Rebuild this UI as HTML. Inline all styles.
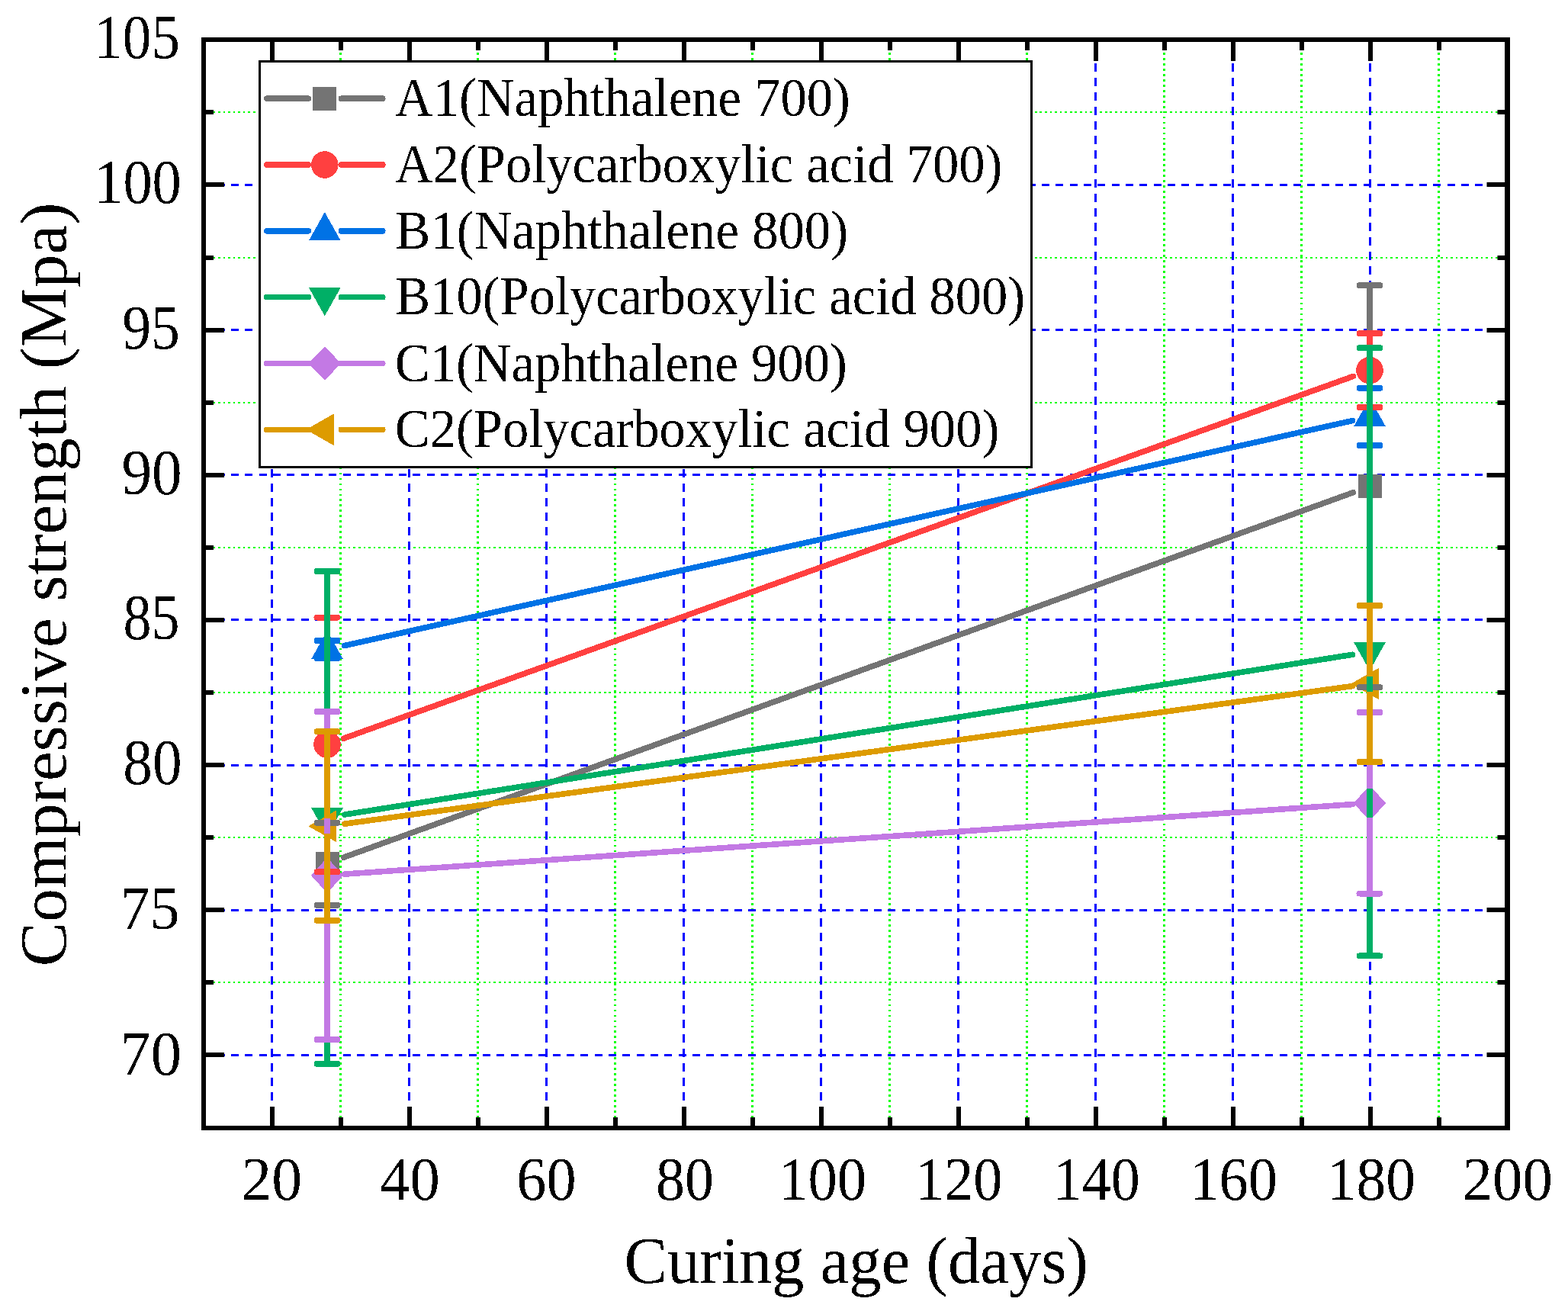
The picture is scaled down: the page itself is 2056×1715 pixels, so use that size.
<!DOCTYPE html><html><head><meta charset="utf-8"><title>Compressive strength vs curing age</title><style>html,body{margin:0;padding:0;background:#fff;overflow:hidden;}svg{display:block;}text{font-family:'Liberation Serif','Times New Roman',serif;fill:#000;}</style></head><body>
<svg width="2056" height="1715" viewBox="0 0 2056 1715">
<rect x="0" y="0" width="2056" height="1715" fill="#fff"/>
<style>.mih{stroke:#00FF00;stroke-width:2;stroke-dasharray:2.6 3.97;}.miv{stroke:#00FF00;stroke-width:3;stroke-dasharray:2.8 4.17;}.mah{stroke:#0000FF;stroke-width:3;stroke-dasharray:10 8.33;}.mav{stroke:#0000FF;stroke-width:3;stroke-dasharray:11 8;}</style>
<g shape-rendering="crispEdges"><line x1="266.3" y1="1288" x2="1976.5" y2="1288" class="mih"/><line x1="266.3" y1="1098" x2="1976.5" y2="1098" class="mih"/><line x1="266.3" y1="908" x2="1976.5" y2="908" class="mih"/><line x1="266.3" y1="718" x2="1976.5" y2="718" class="mih"/><line x1="266.3" y1="528" x2="1976.5" y2="528" class="mih"/><line x1="266.3" y1="338" x2="1976.5" y2="338" class="mih"/><line x1="266.3" y1="147" x2="1976.5" y2="147" class="mih"/><line x1="446.5" y1="62.03" x2="446.5" y2="1479.0" class="miv"/><line x1="626.5" y1="62.03" x2="626.5" y2="1479.0" class="miv"/><line x1="806.5" y1="62.03" x2="806.5" y2="1479.0" class="miv"/><line x1="986.5" y1="62.03" x2="986.5" y2="1479.0" class="miv"/><line x1="1166.5" y1="62.03" x2="1166.5" y2="1479.0" class="miv"/><line x1="1346.5" y1="62.03" x2="1346.5" y2="1479.0" class="miv"/><line x1="1526.5" y1="62.03" x2="1526.5" y2="1479.0" class="miv"/><line x1="1706.5" y1="62.03" x2="1706.5" y2="1479.0" class="miv"/><line x1="1886.5" y1="62.03" x2="1886.5" y2="1479.0" class="miv"/><line x1="266.3" y1="1383.5" x2="1976.5" y2="1383.5" class="mah"/><line x1="266.3" y1="1193.5" x2="1976.5" y2="1193.5" class="mah"/><line x1="266.3" y1="1003.5" x2="1976.5" y2="1003.5" class="mah"/><line x1="266.3" y1="812.5" x2="1976.5" y2="812.5" class="mah"/><line x1="266.3" y1="622.5" x2="1976.5" y2="622.5" class="mah"/><line x1="266.3" y1="432.5" x2="1976.5" y2="432.5" class="mah"/><line x1="266.3" y1="242.5" x2="1976.5" y2="242.5" class="mah"/><line x1="356.5" y1="64" x2="356.5" y2="1479.0" class="mav"/><line x1="536.5" y1="64" x2="536.5" y2="1479.0" class="mav"/><line x1="716.5" y1="64" x2="716.5" y2="1479.0" class="mav"/><line x1="896.5" y1="64" x2="896.5" y2="1479.0" class="mav"/><line x1="1076.5" y1="64" x2="1076.5" y2="1479.0" class="mav"/><line x1="1256.5" y1="64" x2="1256.5" y2="1479.0" class="mav"/><line x1="1436.5" y1="64" x2="1436.5" y2="1479.0" class="mav"/><line x1="1616.5" y1="64" x2="1616.5" y2="1479.0" class="mav"/><line x1="1796.5" y1="64" x2="1796.5" y2="1479.0" class="mav"/></g>
<g shape-rendering="crispEdges"><line x1="450.6" y1="1124.2" x2="1774.4" y2="645.7" stroke="#747474" stroke-width="7.6" stroke-linecap="round"/><line x1="450.6" y1="968.2" x2="1774.4" y2="493.4" stroke="#FF4040" stroke-width="7.6" stroke-linecap="round"/><line x1="451.4" y1="846.6" x2="1773.6" y2="551.5" stroke="#0072E5" stroke-width="7.6" stroke-linecap="round"/><line x1="451.7" y1="1068.1" x2="1773.3" y2="858.3" stroke="#00AF66" stroke-width="7.6" stroke-linecap="round"/><line x1="451.9" y1="1146.1" x2="1773.1" y2="1054.6" stroke="#C379E4" stroke-width="7.6" stroke-linecap="round"/><line x1="451.8" y1="1080.2" x2="1773.2" y2="899.6" stroke="#DD9B00" stroke-width="7.6" stroke-linecap="round"/><rect x="413.5" y="1116.5" width="31" height="31" fill="#747474"/><rect x="1780.5" y="622.4" width="31" height="31" fill="#747474"/><circle cx="429.0" cy="976.0" r="17.8" fill="#FF4040"/><circle cx="1796.0" cy="485.6" r="17.8" fill="#FF4040"/><polygon points="429.0,826.9333333333334 449.75,863.9333333333334 408.25,863.9333333333334" fill="#0072E5"/><polygon points="1796.0,521.8333333333334 1816.75,558.8333333333334 1775.25,558.8333333333334" fill="#0072E5"/><polygon points="429.0,1096.3666666666668 449.75,1059.3666666666668 408.25,1059.3666666666668" fill="#00AF66"/><polygon points="1796.0,879.3666666666667 1816.75,842.3666666666667 1775.25,842.3666666666667" fill="#00AF66"/><polygon points="429.0,1124.45 450.15,1147.7 429.0,1170.95 407.85,1147.7" fill="#C379E4"/><polygon points="1796.0,1029.75 1817.15,1053.0 1796.0,1076.25 1774.85,1053.0" fill="#C379E4"/><polygon points="404.3333333333333,1083.3 441.3333333333333,1062.3 441.3333333333333,1104.3" fill="#DD9B00"/><polygon points="1771.3333333333333,896.5 1808.3333333333333,875.5 1808.3333333333333,917.5" fill="#DD9B00"/><path d="M429.0,1078.7 V1120.0 M429.0,1144.0 V1186.8" stroke="#747474" stroke-width="8" fill="none"/><path d="M415.5,1078.7 H442.5 M415.5,1186.8 H442.5" stroke="#747474" stroke-width="8" stroke-linecap="round" fill="none"/><path d="M1796.0,374.3 V625.9 M1796.0,649.9 V901.2" stroke="#747474" stroke-width="8" fill="none"/><path d="M1782.5,374.3 H1809.5 M1782.5,901.2 H1809.5" stroke="#747474" stroke-width="8" stroke-linecap="round" fill="none"/><path d="M429.0,809.5 V962.0 M429.0,990.0 V1143.3" stroke="#FF4040" stroke-width="8" fill="none"/><path d="M415.5,809.5 H442.5 M415.5,1143.3 H442.5" stroke="#FF4040" stroke-width="8" stroke-linecap="round" fill="none"/><path d="M1796.0,437.3 V471.6 M1796.0,499.6 V534.1" stroke="#FF4040" stroke-width="8" fill="none"/><path d="M1782.5,437.3 H1809.5 M1782.5,534.1 H1809.5" stroke="#FF4040" stroke-width="8" stroke-linecap="round" fill="none"/><path d="M429.0,840.0 V841.6 M429.0,861.6 V863.0" stroke="#0072E5" stroke-width="8" fill="none"/><path d="M415.5,840.0 H442.5 M415.5,863.0 H442.5" stroke="#0072E5" stroke-width="8" stroke-linecap="round" fill="none"/><path d="M1796.0,508.7 V536.5 M1796.0,556.5 V584.1" stroke="#0072E5" stroke-width="8" fill="none"/><path d="M1782.5,508.7 H1809.5 M1782.5,584.1 H1809.5" stroke="#0072E5" stroke-width="8" stroke-linecap="round" fill="none"/><path d="M429.0,749.0 V1061.7 M429.0,1081.7 V1394.8" stroke="#00AF66" stroke-width="8" fill="none"/><path d="M415.5,749.0 H442.5 M415.5,1394.8 H442.5" stroke="#00AF66" stroke-width="8" stroke-linecap="round" fill="none"/><path d="M1796.0,456.2 V844.7 M1796.0,864.7 V1253.4" stroke="#00AF66" stroke-width="8" fill="none"/><path d="M1782.5,456.2 H1809.5 M1782.5,1253.4 H1809.5" stroke="#00AF66" stroke-width="8" stroke-linecap="round" fill="none"/><path d="M429.0,933.0 V1128.7 M429.0,1166.7 V1363.0" stroke="#C379E4" stroke-width="8" fill="none"/><path d="M415.5,933.0 H442.5 M415.5,1363.0 H442.5" stroke="#C379E4" stroke-width="8" stroke-linecap="round" fill="none"/><path d="M1796.0,934.1 V1034.0 M1796.0,1072.0 V1171.5" stroke="#C379E4" stroke-width="8" fill="none"/><path d="M1782.5,934.1 H1809.5 M1782.5,1171.5 H1809.5" stroke="#C379E4" stroke-width="8" stroke-linecap="round" fill="none"/><path d="M429.0,959.3 V1073.3 M429.0,1093.3 V1206.7" stroke="#DD9B00" stroke-width="8" fill="none"/><path d="M415.5,959.3 H442.5 M415.5,1206.7 H442.5" stroke="#DD9B00" stroke-width="8" stroke-linecap="round" fill="none"/><path d="M1796.0,794.1 V886.5 M1796.0,906.5 V999.0" stroke="#DD9B00" stroke-width="8" fill="none"/><path d="M1782.5,794.1 H1809.5 M1782.5,999.0 H1809.5" stroke="#DD9B00" stroke-width="8" stroke-linecap="round" fill="none"/></g>
<g stroke="#000" stroke-width="6.0"><line x1="267.0" y1="1383" x2="294.0" y2="1383"/><line x1="1976.5" y1="1383" x2="1949.5" y2="1383"/><line x1="267.0" y1="1288" x2="280.0" y2="1288"/><line x1="1976.5" y1="1288" x2="1963.5" y2="1288"/><line x1="267.0" y1="1193" x2="294.0" y2="1193"/><line x1="1976.5" y1="1193" x2="1949.5" y2="1193"/><line x1="267.0" y1="1098" x2="280.0" y2="1098"/><line x1="1976.5" y1="1098" x2="1963.5" y2="1098"/><line x1="267.0" y1="1003" x2="294.0" y2="1003"/><line x1="1976.5" y1="1003" x2="1949.5" y2="1003"/><line x1="267.0" y1="908" x2="280.0" y2="908"/><line x1="1976.5" y1="908" x2="1963.5" y2="908"/><line x1="267.0" y1="813" x2="294.0" y2="813"/><line x1="1976.5" y1="813" x2="1949.5" y2="813"/><line x1="267.0" y1="718" x2="280.0" y2="718"/><line x1="1976.5" y1="718" x2="1963.5" y2="718"/><line x1="267.0" y1="623" x2="294.0" y2="623"/><line x1="1976.5" y1="623" x2="1949.5" y2="623"/><line x1="267.0" y1="528" x2="280.0" y2="528"/><line x1="1976.5" y1="528" x2="1963.5" y2="528"/><line x1="267.0" y1="433" x2="294.0" y2="433"/><line x1="1976.5" y1="433" x2="1949.5" y2="433"/><line x1="267.0" y1="338" x2="280.0" y2="338"/><line x1="1976.5" y1="338" x2="1963.5" y2="338"/><line x1="267.0" y1="242" x2="294.0" y2="242"/><line x1="1976.5" y1="242" x2="1949.5" y2="242"/><line x1="267.0" y1="147" x2="280.0" y2="147"/><line x1="1976.5" y1="147" x2="1963.5" y2="147"/><line x1="357.0" y1="1479.0" x2="357.0" y2="1451.0"/><line x1="357.0" y1="52.0" x2="357.0" y2="80.0"/><line x1="447.0" y1="1479.0" x2="447.0" y2="1465.0"/><line x1="447.0" y1="52.0" x2="447.0" y2="66.0"/><line x1="537.0" y1="1479.0" x2="537.0" y2="1451.0"/><line x1="537.0" y1="52.0" x2="537.0" y2="80.0"/><line x1="627.0" y1="1479.0" x2="627.0" y2="1465.0"/><line x1="627.0" y1="52.0" x2="627.0" y2="66.0"/><line x1="717.0" y1="1479.0" x2="717.0" y2="1451.0"/><line x1="717.0" y1="52.0" x2="717.0" y2="80.0"/><line x1="807.0" y1="1479.0" x2="807.0" y2="1465.0"/><line x1="807.0" y1="52.0" x2="807.0" y2="66.0"/><line x1="897.0" y1="1479.0" x2="897.0" y2="1451.0"/><line x1="897.0" y1="52.0" x2="897.0" y2="80.0"/><line x1="987.0" y1="1479.0" x2="987.0" y2="1465.0"/><line x1="987.0" y1="52.0" x2="987.0" y2="66.0"/><line x1="1077.0" y1="1479.0" x2="1077.0" y2="1451.0"/><line x1="1077.0" y1="52.0" x2="1077.0" y2="80.0"/><line x1="1167.0" y1="1479.0" x2="1167.0" y2="1465.0"/><line x1="1167.0" y1="52.0" x2="1167.0" y2="66.0"/><line x1="1257.0" y1="1479.0" x2="1257.0" y2="1451.0"/><line x1="1257.0" y1="52.0" x2="1257.0" y2="80.0"/><line x1="1347.0" y1="1479.0" x2="1347.0" y2="1465.0"/><line x1="1347.0" y1="52.0" x2="1347.0" y2="66.0"/><line x1="1437.0" y1="1479.0" x2="1437.0" y2="1451.0"/><line x1="1437.0" y1="52.0" x2="1437.0" y2="80.0"/><line x1="1527.0" y1="1479.0" x2="1527.0" y2="1465.0"/><line x1="1527.0" y1="52.0" x2="1527.0" y2="66.0"/><line x1="1617.0" y1="1479.0" x2="1617.0" y2="1451.0"/><line x1="1617.0" y1="52.0" x2="1617.0" y2="80.0"/><line x1="1707.0" y1="1479.0" x2="1707.0" y2="1465.0"/><line x1="1707.0" y1="52.0" x2="1707.0" y2="66.0"/><line x1="1797.0" y1="1479.0" x2="1797.0" y2="1451.0"/><line x1="1797.0" y1="52.0" x2="1797.0" y2="80.0"/><line x1="1887.0" y1="1479.0" x2="1887.0" y2="1465.0"/><line x1="1887.0" y1="52.0" x2="1887.0" y2="66.0"/></g><path d="M264,49 H1980 V1482 H264 Z M270,55 V1476 H1973 V55 Z" fill="#000" fill-rule="evenodd" stroke="none"/>
<defs><filter id="bin" x="-5%" y="-5%" width="110%" height="110%"><feComponentTransfer><feFuncA type="discrete" tableValues="0 1"/></feComponentTransfer></filter></defs>
<g filter="url(#bin)"><text transform="translate(123.29 75.98) scale(0.9200 1)" font-size="81.68">105</text><text transform="translate(123.18 266.08) scale(0.9271 1)" font-size="82.43">100</text><text transform="translate(160.17 457.28) scale(0.9224 1)" font-size="82.13">95</text><text transform="translate(159.46 647.56) scale(0.9478 1)" font-size="83.61">90</text><text transform="translate(161.48 837.96) scale(0.8860 1)" font-size="83.61">85</text><text transform="translate(161.37 1028.36) scale(0.9241 1)" font-size="83.61">80</text><text transform="translate(157.48 1218.29) scale(0.9607 1)" font-size="81.45">75</text><text transform="translate(157.32 1409.18) scale(0.9800 1)" font-size="82.28">70</text><text transform="translate(316.24 1573.19) scale(0.9803 1)" font-size="81.39">20</text><text transform="translate(498.23 1573.19) scale(0.9652 1)" font-size="81.39">40</text><text transform="translate(677.20 1573.19) scale(0.9629 1)" font-size="81.39">60</text><text transform="translate(860.02 1573.19) scale(0.9321 1)" font-size="81.39">80</text><text transform="translate(1021.05 1573.19) scale(0.9434 1)" font-size="81.39">100</text><text transform="translate(1200.09 1573.19) scale(0.9372 1)" font-size="81.39">120</text><text transform="translate(1380.71 1573.19) scale(0.9345 1)" font-size="81.39">140</text><text transform="translate(1560.26 1573.19) scale(0.9407 1)" font-size="81.39">160</text><text transform="translate(1739.68 1573.19) scale(0.9532 1)" font-size="81.39">180</text><text transform="translate(1917.48 1573.19) scale(0.9700 1)" font-size="81.39">200</text><text transform="translate(818.50 1681.50) scale(0.9894 1)" font-size="85.82">Curing age (days)</text><text transform="translate(86.40 1267.40) rotate(-90) scale(1.0204 1)" font-size="85.82">Compressive strength (Mpa)</text></g>
<g shape-rendering="crispEdges"><rect x="340.5" y="80.5" width="1012" height="532" fill="#fff" stroke="#000" stroke-width="3"/><path d="M349.7,129.2 H404.4 M447.3,129.2 H501.8" stroke="#747474" stroke-width="7.6" stroke-linecap="round"/><rect x="410.3" y="113.69999999999999" width="31" height="31" fill="#747474"/><path d="M349.7,216.01999999999998 H404.4 M447.3,216.01999999999998 H501.8" stroke="#FF4040" stroke-width="7.6" stroke-linecap="round"/><circle cx="425.8" cy="216.01999999999998" r="17.8" fill="#FF4040"/><path d="M349.7,302.84 H404.4 M447.3,302.84 H501.8" stroke="#0072E5" stroke-width="7.6" stroke-linecap="round"/><polygon points="425.8,278.1733333333333 446.55,315.1733333333333 405.05,315.1733333333333" fill="#0072E5"/><path d="M349.7,389.65999999999997 H404.4 M447.3,389.65999999999997 H501.8" stroke="#00AF66" stroke-width="7.6" stroke-linecap="round"/><polygon points="425.8,414.32666666666665 446.55,377.32666666666665 405.05,377.32666666666665" fill="#00AF66"/><path d="M349.7,476.47999999999996 H404.4 M447.3,476.47999999999996 H501.8" stroke="#C379E4" stroke-width="7.6" stroke-linecap="round"/><path d="M404.4,476.47999999999996 H447.3" stroke="#C379E4" stroke-width="7.6"/><polygon points="425.8,454.47999999999996 447.3,476.47999999999996 425.8,498.47999999999996 404.3,476.47999999999996" fill="#C379E4"/><path d="M349.7,563.3 H404.4 M447.3,563.3 H501.8" stroke="#DD9B00" stroke-width="7.6" stroke-linecap="round"/><polygon points="401.1333333333333,563.3 438.1333333333333,542.3 438.1333333333333,584.3" fill="#DD9B00"/></g>
<g filter="url(#bin)"><text transform="translate(518.11 152.10) scale(0.9640 1)" font-size="71.25">A1(Naphthalene 700)</text><text transform="translate(518.11 238.77) scale(0.9666 1)" font-size="70.99">A2(Polycarboxylic acid 700)</text><text transform="translate(518.54 325.80) scale(0.9647 1)" font-size="71.25">B1(Naphthalene 800)</text><text transform="translate(518.54 412.47) scale(0.9650 1)" font-size="70.99">B10(Polycarboxylic acid 800)</text><text transform="translate(517.85 499.50) scale(0.9639 1)" font-size="71.25">C1(Naphthalene 900)</text><text transform="translate(517.86 586.17) scale(0.9663 1)" font-size="70.99">C2(Polycarboxylic acid 900)</text></g>
</svg></body></html>
